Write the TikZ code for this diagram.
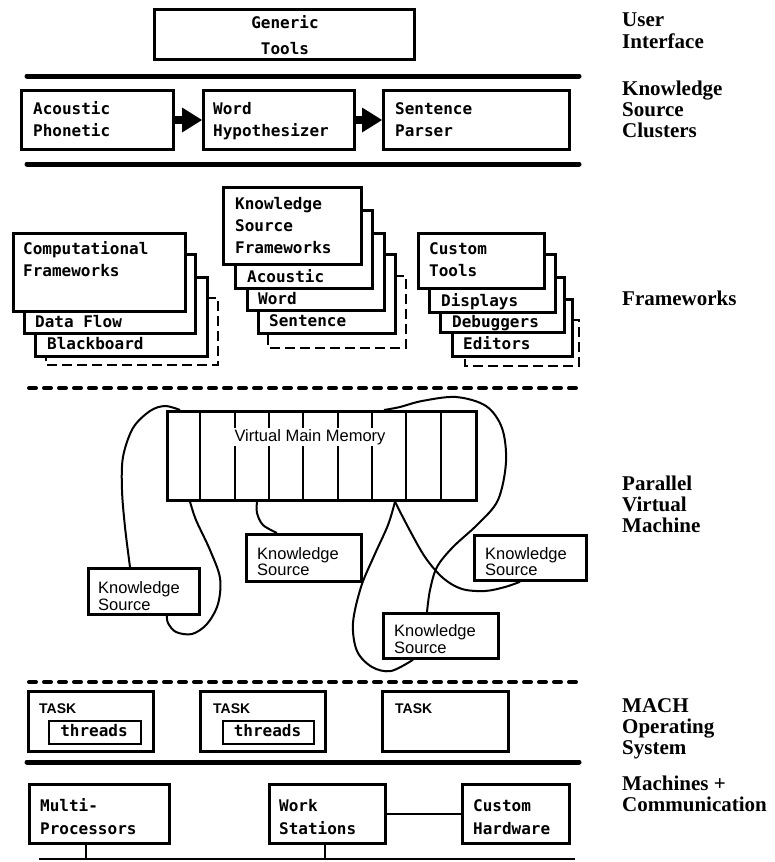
\documentclass[tikz,border=0pt]{standalone}
\usepackage{fontspec}
\usetikzlibrary{arrows.meta,calc}
\newfontfamily\monof{DejaVu Sans Mono}
\newfontfamily\serff{Liberation Serif}
\newfontfamily\sanff{Liberation Sans}
\newcommand\mkbox[6][]{\node[bx,#1,minimum width={#5-#3},minimum height={#6-#4}] (#2) at (#3,#4) {};}
\newcommand\mtx[5][mt]{\node[#1] (#2) at (#3,#4) {#5};}
\begin{document}
\begin{tikzpicture}[x=1pt,y=-1pt]
\tikzset{
 bx/.style={draw, line width=3pt, fill=white, inner sep=0pt, anchor=north west},
 mt/.style={font=\monof\bfseries\fontsize{16}{20}\selectfont, inner sep=0pt, anchor=base west},
 mtc/.style={mt, anchor=base},
 st/.style={font=\sanff\fontsize{16.5}{20}\selectfont, inner sep=0pt, anchor=base west},
 tk/.style={font=\sanff\bfseries\fontsize{14}{18}\selectfont, inner sep=0pt, anchor=base west},
 lab/.style={font=\serff\bfseries\fontsize{21}{21}\selectfont, inner sep=0pt, anchor=base west},
 sep/.style={line width=5pt, line cap=round},
 dsep/.style={line width=4pt, line cap=round, dash pattern=on 7pt off 8pt},
 dbox/.style={line width=2.6pt, dash pattern=on 10pt off 5pt},
 curve/.style={line width=2pt},
 conn/.style={line width=2.6pt},
 arr/.style={line width=8pt, -{Triangle[length=20pt,width=25pt,line width=0pt]}}
}
\useasboundingbox (0,0) rectangle (775,862);
\fill[white] (0,0) rectangle (775,862);

% ---------- User interface ----------
\mkbox{gt}{153}{8}{413}{58}
\mtx[mtc]{gt1}{285}{28}{Generic}
\mtx[mtc]{gt2}{285}{54}{Tools}

\coordinate (l1a) at (27,76); \coordinate (l1b) at (579,76);
\draw[sep] (l1a) -- (l1b);

% ---------- Knowledge source clusters ----------
\mkbox{ap}{20}{89}{172}{148}
\mkbox{wh}{202}{89}{353}{148}
\mkbox{sp}{382}{89}{568}{148}
\mtx{ap1}{33}{114}{Acoustic}
\mtx{ap2}{33}{136}{Phonetic}
\mtx{wh1}{213}{114}{Word}
\mtx{wh2}{213}{136}{Hypothesizer}
\mtx{sp1}{395}{114}{Sentence}
\mtx{sp2}{395}{136}{Parser}
\draw[arr] (ap.east) -- (wh.west);
\draw[arr] (wh.east) -- (sp.west);

\coordinate (l2a) at (27,164); \coordinate (l2b) at (579,164);
\draw[sep] (l2a) -- (l2b);

% ---------- Frameworks: computational ----------
\draw[dbox] (206,298) -- (218,298) -- (218,365) -- (46,365) -- (46,355);
\mkbox[line width=2.8pt]{cf3}{34}{276}{206}{355}
\mkbox[line width=2.8pt]{cf2}{23}{253}{194}{332}
\mkbox[line width=2.8pt]{cf1}{12}{232}{184}{310}
\mtx{cft1}{23}{254}{Computational}
\mtx{cft2}{23}{276}{Frameworks}
\mtx{cft3}{35}{327}{Data Flow}
\mtx{cft4}{47}{349}{Blackboard}

% ---------- Frameworks: knowledge source ----------
\draw[dbox] (394,276) -- (406,276) -- (406,348) -- (268,348) -- (268,332);
\mkbox[line width=2.8pt]{ks4f}{257}{253}{394}{332}
\mkbox[line width=2.8pt]{ks3f}{246}{232}{383}{309}
\mkbox[line width=2.8pt]{ks2f}{234}{209}{371}{287}
\mkbox[line width=2.8pt]{ks1f}{222}{186}{360}{263}
\mtx{ksft1}{235}{209}{Knowledge}
\mtx{ksft2}{235}{231}{Source}
\mtx{ksft3}{235}{253}{Frameworks}
\mtx{ksft4}{247}{282}{Acoustic}
\mtx{ksft5}{258}{304}{Word}
\mtx{ksft6}{269}{326}{Sentence}

% ---------- Frameworks: custom tools ----------
\draw[dbox] (571,320) -- (579,320) -- (579,366) -- (465,366) -- (465,355);
\mkbox[line width=2.8pt]{ct4}{451}{298}{571}{355}
\mkbox[line width=2.8pt]{ct3}{439}{276}{563}{331}
\mkbox[line width=2.8pt]{ct2}{428}{253}{554}{311}
\mkbox[line width=2.8pt]{ct1}{417}{232}{543}{287}
\mtx{ctt1}{429}{254}{Custom}
\mtx{ctt2}{429}{276}{Tools}
\mtx{ctt3}{441}{306}{Displays}
\mtx{ctt4}{452}{327}{Debuggers}
\mtx{ctt5}{463}{349}{Editors}

\coordinate (l3a) at (29,388); \coordinate (l3b) at (580,388);
\draw[dsep] (l3a) -- (l3b);

% ---------- Parallel virtual machine ----------
\mkbox[line width=2.6pt]{mem}{166}{410}{475}{499}
\foreach \i in {1,...,8} {
  \draw[line width=2pt] ($(mem.north west)+(\i*34.33,0)$) -- ($(mem.south west)+(\i*34.33,0)$);
}
\node[st, anchor=base, fill=white, inner sep=1.5pt] (memt) at (310,441) {Virtual Main Memory};

\mkbox[line width=2.8pt]{ks1}{87}{567}{198}{613}
\mkbox[line width=2.8pt]{ks2}{245}{533}{360}{580}
\mkbox[line width=2.8pt]{ks3}{473}{534}{585}{579}
\mkbox[line width=2.8pt]{ks4}{382}{612}{497}{657}
\mtx[st]{k1a}{98}{593}{Knowledge}
\mtx[st]{k1b}{98}{610}{Source}
\mtx[st]{k2a}{257}{559}{Knowledge}
\mtx[st]{k2b}{257}{575}{Source}
\mtx[st]{k3a}{485}{559}{Knowledge}
\mtx[st]{k3b}{485}{575}{Source}
\mtx[st]{k4a}{394}{636}{Knowledge}
\mtx[st]{k4b}{394}{653}{Source}

\coordinate (ca0) at ($(ks1.north west)+(43,0)$);
\coordinate (ca1) at ($(mem.north west)+(14,0)$);
\coordinate (cb0) at ($(mem.south west)+(24,0)$);
\coordinate (cb1) at ($(ks1.south west)+(80,0)$);
\coordinate (cc0) at ($(mem.south west)+(91,0)$);
\coordinate (cc1) at ($(ks2.north west)+(32,0)$);
\coordinate (cd0) at ($(mem.south west)+(229,0)$);
\coordinate (cd1) at ($(ks4.south west)+(31,0)$);
\coordinate (cd2) at ($(ks3.south west)+(47,0)$);
\coordinate (ce0) at ($(ks4.north west)+(45,0)$);
\coordinate (ce1) at ($(mem.north west)+(218,0)$);

\draw[curve] plot[smooth, tension=0.55] coordinates {(ca0) (125,527) (122,490) (123,457) (133,428) (150,411) (165,406) (ca1)};
\draw[curve] plot[smooth, tension=0.55] coordinates {(cb0) (196,520) (210,550) (220,578) (218,604) (207,624) (192,634) (176,632) (168,623) (cb1)};
\draw[curve] plot[smooth, tension=0.55] coordinates {(cc0) (257,513) (263,525) (cc1)};
\draw[curve] plot[smooth, tension=0.55] coordinates {(cd0) (388,525) (374,556) (361,587) (353,623) (357,651) (372,667) (391,671) (cd1)};
\draw[curve] plot[smooth, tension=0.55] coordinates {(cd0) (408,527) (425,557) (443,578) (462,589) (485,591) (505,587) (cd2)};
\draw[curve] plot[smooth, tension=0.55] coordinates {(ce0) (430,590) (437,567) (453,547) (478,524) (498,500) (506,462) (502,428) (486,406) (456,397) (422,401) (400,407) (ce1)};

\coordinate (l4a) at (29,682); \coordinate (l4b) at (580,682);
\draw[dsep] (l4a) -- (l4b);

% ---------- MACH ----------
\mkbox{t1}{27}{690}{152}{750}
\mkbox{t2}{199}{690}{324}{750}
\mkbox{t3}{381}{690}{507}{750}
\mtx[tk]{t1t}{39}{713}{TASK}
\mtx[tk]{t2t}{213}{713}{TASK}
\mtx[tk]{t3t}{395}{713}{TASK}
\mkbox[line width=1.6pt]{th1}{48}{720}{140}{743}
\mkbox[line width=1.6pt]{th2}{222}{720}{313}{743}
\mtx[mtc]{th1t}{94}{736}{threads}
\mtx[mtc]{th2t}{267.5}{736}{threads}

\coordinate (l5a) at (27,762); \coordinate (l5b) at (579,762);
\draw[sep] (l5a) -- (l5b);

% ---------- Machines ----------
\mkbox{mp}{28}{783}{168}{842}
\mkbox{ws}{268}{783}{384}{842}
\mkbox{ch}{461}{783}{568}{842}
\mtx{mp1}{40}{811}{Multi-}
\mtx{mp2}{40}{834}{Processors}
\mtx{ws1}{279}{811}{Work}
\mtx{ws2}{279}{834}{Stations}
\mtx{ch1}{473}{811}{Custom}
\mtx{ch2}{473}{834}{Hardware}
\draw[conn] (ws.east) -- (ch.west);
\coordinate (b1) at (39,859); \coordinate (b2) at (575,859);
\coordinate (d1) at (86,859); \coordinate (d2) at (325,859);
\draw[conn] (b1) -- (b2);
\draw[conn] (d1 |- mp.south) -- (d1);
\draw[conn] (d2 |- ws.south) -- (d2);

% ---------- Right-hand labels ----------
\mtx[lab]{r1}{622}{27}{User}
\mtx[lab]{r2}{622}{48}{Interface}
\mtx[lab]{r3}{622}{95}{Knowledge}
\mtx[lab]{r4}{622}{116}{Source}
\mtx[lab]{r5}{622}{137}{Clusters}
\mtx[lab]{r6}{622}{305}{Frameworks}
\mtx[lab]{r7}{622}{490}{Parallel}
\mtx[lab]{r8}{622}{511}{Virtual}
\mtx[lab]{r9}{622}{532}{Machine}
\mtx[lab]{r10}{622}{712}{MACH}
\mtx[lab]{r11}{622}{733}{Operating}
\mtx[lab]{r12}{622}{754}{System}
\mtx[lab]{r13}{622}{790}{Machines +}
\mtx[lab]{r14}{622}{811}{Communication}
\end{tikzpicture}
\end{document}
